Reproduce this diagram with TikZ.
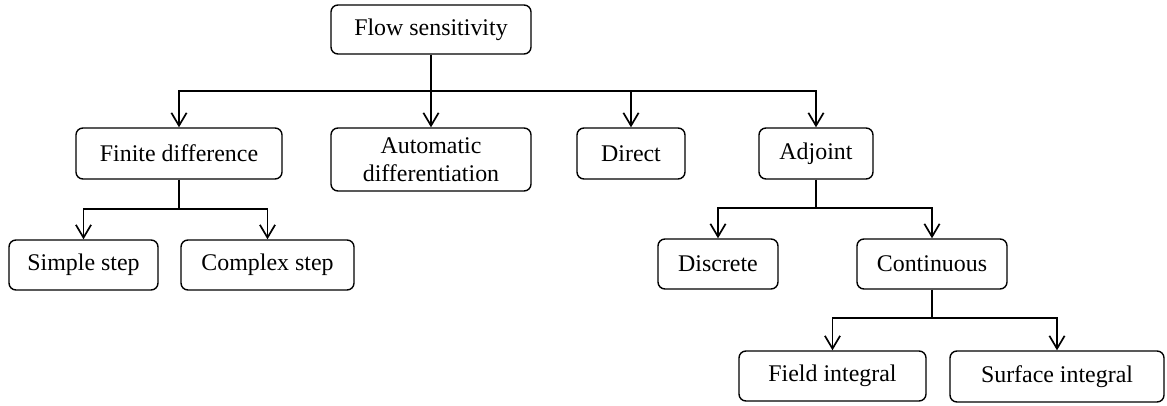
\documentclass[tikz,border=0pt]{standalone}
\usepackage{fontspec}
\setmainfont{Liberation Serif}
\usetikzlibrary{arrows.meta}

\tikzset{
  box/.style={draw, line width=1pt, rounded corners=5pt, align=center, inner sep=0pt,
    font=\fontsize{17}{20}\selectfont},
  link/.style={line width=1.2pt, -{Straight Barb[length=3.2mm,width=3.8mm]}},
  trunk/.style={line width=1.2pt},
}

\begin{document}
\begin{tikzpicture}[x=0.025cm, y=-0.025cm]
    \useasboundingbox (0,0) rectangle (1167,406);

    % Raíz
    \node[box, minimum width=5cm, minimum height=1.225cm] (flow) at (431,29.5) {Flow sensitivity};

    % Primer nivel
    \node[box, minimum width=5.15cm, minimum height=1.275cm] (fd) at (179,153.5) {Finite difference};
    \node[box, minimum width=5cm, minimum height=1.575cm] (ad) at (431,159.5) {Automatic\\differentiation};
    \node[box, minimum width=2.7cm, minimum height=1.275cm] (direct) at (631,153.5) {Direct};
    \node[box, minimum width=2.85cm, minimum height=1.275cm] (adjoint) at (816,153.5) {Adjoint};

    % Segundo nivel
    \node[box, minimum width=3.725cm, minimum height=1.25cm] (simple) at (83.5,265) {Simple step};
    \node[box, minimum width=4.325cm, minimum height=1.25cm] (complex) at (267.5,265) {Complex step};
    \node[box, minimum width=3cm, minimum height=1.25cm] (discrete) at (718,264) {Discrete};
    \node[box, minimum width=3.75cm, minimum height=1.25cm] (continuous) at (932,264) {Continuous};

    % Tercer nivel
    \node[box, minimum width=4.675cm, minimum height=1.25cm] (field) at (832.5,376) {Field integral};
    \node[box, minimum width=5.35cm, minimum height=1.275cm] (surface) at (1057,376.5) {Surface integral};

    % Puntos de ramificación
    \coordinate (j1) at (431,91);
    \coordinate (j2) at (179,209);
    \coordinate (j3) at (816,208);
    \coordinate (j4) at (932,318);

    % Conectores
    \draw[trunk] (flow.south) -- (j1);
    \foreach \n in {fd, ad, direct, adjoint}
      \draw[link] (j1) -| (\n.north);

    \draw[trunk] (fd.south) -- (j2);
    \foreach \n in {simple, complex}
      \draw[link] (j2) -| (\n.north);

    \draw[trunk] (adjoint.south) -- (j3);
    \foreach \n in {discrete, continuous}
      \draw[link] (j3) -| (\n.north);

    \draw[trunk] (continuous.south) -- (j4);
    \foreach \n in {field, surface}
      \draw[link] (j4) -| (\n.north);
\end{tikzpicture}
\end{document}
